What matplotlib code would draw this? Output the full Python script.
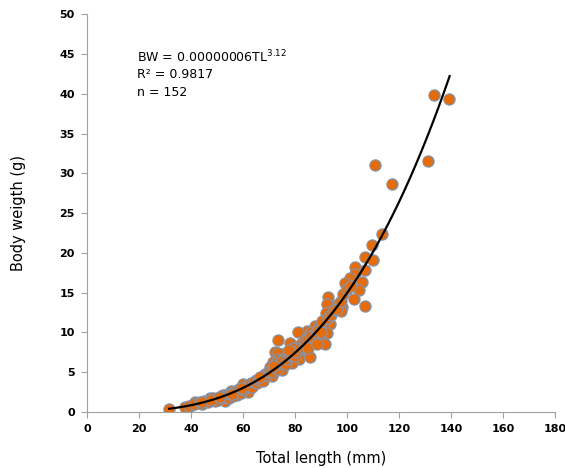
import numpy as np
import matplotlib
matplotlib.use('Agg')
import matplotlib.pyplot as plt

# total length (mm) and body weight (g)
total_length = [
    133.4, 139.1, 131.3, 110.9, 117.3, 113.6, 109.5, 106.8, 110.0, 103.0,
    106.8, 103.0, 101.0, 99.3, 105.9, 104.5, 102.5, 106.9, 92.6, 92.2,
    96.5, 97.2, 98.2, 97.7, 91.8, 93.5, 91.0, 87.5, 89.5, 84.4,
    86.3, 81.2, 92.1, 88.8, 87.0, 73.5, 77.9, 90.3, 91.4, 86.3,
    85.7, 82.2, 79.2, 83.0, 72.2, 76.0, 81.2, 73.5, 85.7, 81.6,
    73.5, 75.4, 71.5, 78.8, 72.8, 74.8, 70.2, 74.8, 72.2, 68.4,
    70.2, 71.1, 68.4, 64.8, 62.6, 61.9, 60.0, 57.5, 55.5, 56.2,
    53.0, 52.3, 53.0, 50.1, 47.8, 47.1, 44.9, 42.7, 41.5, 40.2,
    37.5, 31.3,
    39.0, 41.0, 43.5, 44.0, 46.0, 46.5, 48.5, 49.0, 50.5, 51.5,
    52.0, 54.0, 54.5, 55.0, 56.0, 57.0, 58.0, 58.5, 59.0, 60.5,
    61.0, 62.0, 63.0, 63.5, 64.0, 65.5, 66.0, 67.0, 67.5, 69.0,
    69.5, 70.5, 71.0, 72.0, 73.0, 74.0, 75.0, 76.5, 77.0, 78.0,
    79.0, 80.0, 80.5, 82.0, 83.5, 84.0, 85.0, 86.0, 88.0, 89.0,
    90.0, 90.5, 92.5, 94.0, 95.0, 96.0, 97.5, 98.5, 100.0, 101.5,
    44.2, 47.5, 51.0, 55.8, 59.5, 66.5, 71.8, 77.5, 84.8, 88.5,
]
body_weight = [
    39.9, 39.3, 31.6, 31.0, 28.7, 22.4, 21.0, 19.5, 19.1, 18.2,
    17.9, 17.4, 16.8, 16.2, 16.3, 15.4, 14.2, 13.3, 14.4, 13.6,
    13.6, 13.3, 13.2, 12.7, 12.4, 11.1, 11.1, 10.8, 10.8, 10.2,
    10.1, 10.0, 9.9, 9.5, 9.3, 9.1, 8.7, 8.9, 8.6, 8.8,
    8.4, 8.5, 8.0, 7.8, 7.6, 7.4, 7.4, 7.4, 6.9, 6.7,
    6.6, 6.7, 6.3, 6.2, 6.1, 5.9, 5.7, 5.3, 5.1, 4.8,
    4.8, 4.5, 4.4, 4.0, 3.0, 2.5, 3.5, 2.1, 2.7, 2.5,
    2.1, 2.1, 1.4, 1.8, 1.6, 1.7, 1.35, 1.1, 1.3, 0.9,
    0.65, 0.4,
    0.8, 1.0, 1.2, 1.0, 1.4, 1.2, 1.8, 1.4, 1.5, 2.0,
    1.7, 2.2, 1.8, 2.3, 2.0, 2.7, 2.6, 2.9, 2.4, 2.8,
    3.2, 3.4, 3.6, 3.2, 3.8, 3.6, 4.0, 4.2, 3.9, 4.6,
    5.0, 5.2, 5.0, 5.6, 5.4, 6.2, 6.4, 6.0, 6.6, 7.0,
    7.2, 7.0, 7.6, 8.0, 8.2, 9.0, 9.2, 9.6, 10.0, 10.3,
    10.0, 11.4, 11.8, 12.2, 12.8, 13.0, 14.0, 14.8, 15.5, 15.8,
    1.3, 1.5, 1.9, 2.2, 3.0, 4.4, 5.8, 7.8, 8.0, 8.6,
]

# power trend line as drawn on the chart
trend_a = 8.6e-6
trend_b = 3.12
trend_range = (31.5, 139.5)

x_ticks = [0, 20, 40, 60, 80, 100, 120, 140, 160, 180]
y_ticks = [0, 5, 10, 15, 20, 25, 30, 35, 40, 45, 50]

fig = plt.figure(figsize=(5.65, 4.68), dpi=100)
ax = fig.add_axes([0.1545, 0.1197, 0.8275, 0.8497])

ax.scatter(total_length, body_weight, s=66, color='#E46C0A',
           edgecolors='#7C97BA', linewidths=0.8, zorder=2)

tl = np.linspace(trend_range[0], trend_range[1], 200)
ax.plot(tl, trend_a * tl ** trend_b, color='black', lw=1.6, zorder=3)

ax.set_xlim(0, 180)
ax.set_ylim(0, 50)
ax.set_xticks(x_ticks)
ax.set_yticks(y_ticks)
ax.tick_params(axis='both', direction='out', length=4, color='#A0A0A0',
               labelsize=8, pad=5)
for lab in ax.get_xticklabels() + ax.get_yticklabels():
    lab.set_fontweight('bold')
for side in ['top', 'right']:
    ax.spines[side].set_visible(False)
for side in ['left', 'bottom']:
    ax.spines[side].set_color('#A0A0A0')

ax.set_xlabel('Total length (mm)', fontsize=10.5, labelpad=12)
ax.set_ylabel('Body weigth (g)', fontsize=10.5, labelpad=24)

ax.text(137 / 565, 1 - 57 / 468, r'BW = 0.00000006TL$^{3.12}$',
        transform=fig.transFigure, fontsize=9, va='center')
ax.text(137 / 565, 1 - 75 / 468, 'R² = 0.9817',
        transform=fig.transFigure, fontsize=9, va='center')
ax.text(137 / 565, 1 - 93 / 468, 'n = 152',
        transform=fig.transFigure, fontsize=9, va='center')

fig.savefig('out.png', dpi=100)
